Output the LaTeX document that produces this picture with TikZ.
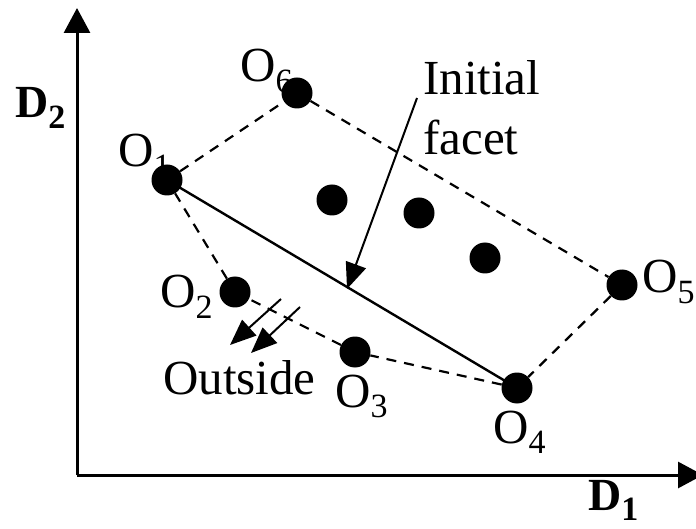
\documentclass[tikz,border=0pt]{standalone}
\usepackage{fontspec}
\setmainfont{Liberation Serif}
\usetikzlibrary{arrows.meta}
\newcommand{\lsub}[1]{\raisebox{-0.22em}{\fontsize{34}{34}\selectfont #1}}
\tikzset{
  dot/.style={circle,fill=black,inner sep=0pt,minimum size=31pt},
  lbl/.style={anchor=base west,inner sep=0pt,font=\fontsize{49}{52}\selectfont},
  axlbl/.style={anchor=base west,inner sep=0pt,font=\fontsize{46}{50}\selectfont\bfseries},
  axis/.style={line width=3pt,-{Triangle[length=25pt,width=26pt]}},
  hull/.style={line width=2.2pt,dash pattern=on 10pt off 8pt},
  facet/.style={line width=2.4pt},
  pointer/.style={line width=2pt,-{Triangle[length=26pt,width=21pt]}}
}
\begin{document}
\begin{tikzpicture}[x=1pt,y=-1pt]
\useasboundingbox (0,0) rectangle (696,529);
\clip (0,0) rectangle (696,529);
% axes
\coordinate (org) at (77,475);
\coordinate (ytip) at (77,8);
\coordinate (xtip) at (703,475);
\draw[axis] (org) -- (ytip);
\draw[axis] (org) -- (xtip);
\node[axlbl] (D2) at (15,118) {D\lsub{2}};
\node[axlbl] (D1) at (588,510) {D\lsub{1}};
% labels
\node[lbl] (L6) at (240,82) {O\lsub{6}};
\node[lbl] (L1) at (118,167) {O\lsub{1}};
\node[lbl] (L2) at (160,308) {O\lsub{2}};
\node[lbl] (L3) at (335,407) {O\lsub{3}};
\node[lbl] (L4) at (493,443) {O\lsub{4}};
\node[lbl] (L5) at (642,293) {O\lsub{5}};
\node[lbl] (init) at (423,95) {Initial};
\node[lbl] (fac) at (423,155) {facet};
\node[lbl] (out) at (163,394) {Outside};
% points
\node[dot] (O1) at (167,180) {};
\node[dot] (O6) at (297,93) {};
\node[dot] (P1) at (332,200) {};
\node[dot] (P2) at (419,213) {};
\node[dot] (P3) at (485,258) {};
\node[dot] (O5) at (622,285) {};
\node[dot] (O4) at (517,388) {};
\node[dot] (O3) at (355,352) {};
\node[dot] (O2) at (235,292) {};
% hull
\draw[hull] (O1) -- (O6);
\draw[hull] (O6) -- (O5);
\draw[hull] (O5) -- (O4);
\draw[hull] (O4) -- (O3);
\draw[hull] (O3) -- (O2);
\draw[hull] (O2) -- (O1);
\draw[facet] (O1.center) -- (O4.center);
% pointers
\coordinate (fs) at (417,98);
\coordinate (fe) at (347,289);
\draw[pointer] (fs) -- (fe);
\coordinate (a1s) at (281,299);
\coordinate (a1e) at (230,345);
\coordinate (a2s) at (300,307);
\coordinate (a2e) at (251,353);
\draw[pointer] (a1s) -- (a1e);
\draw[pointer] (a2s) -- (a2e);
\end{tikzpicture}
\end{document}
